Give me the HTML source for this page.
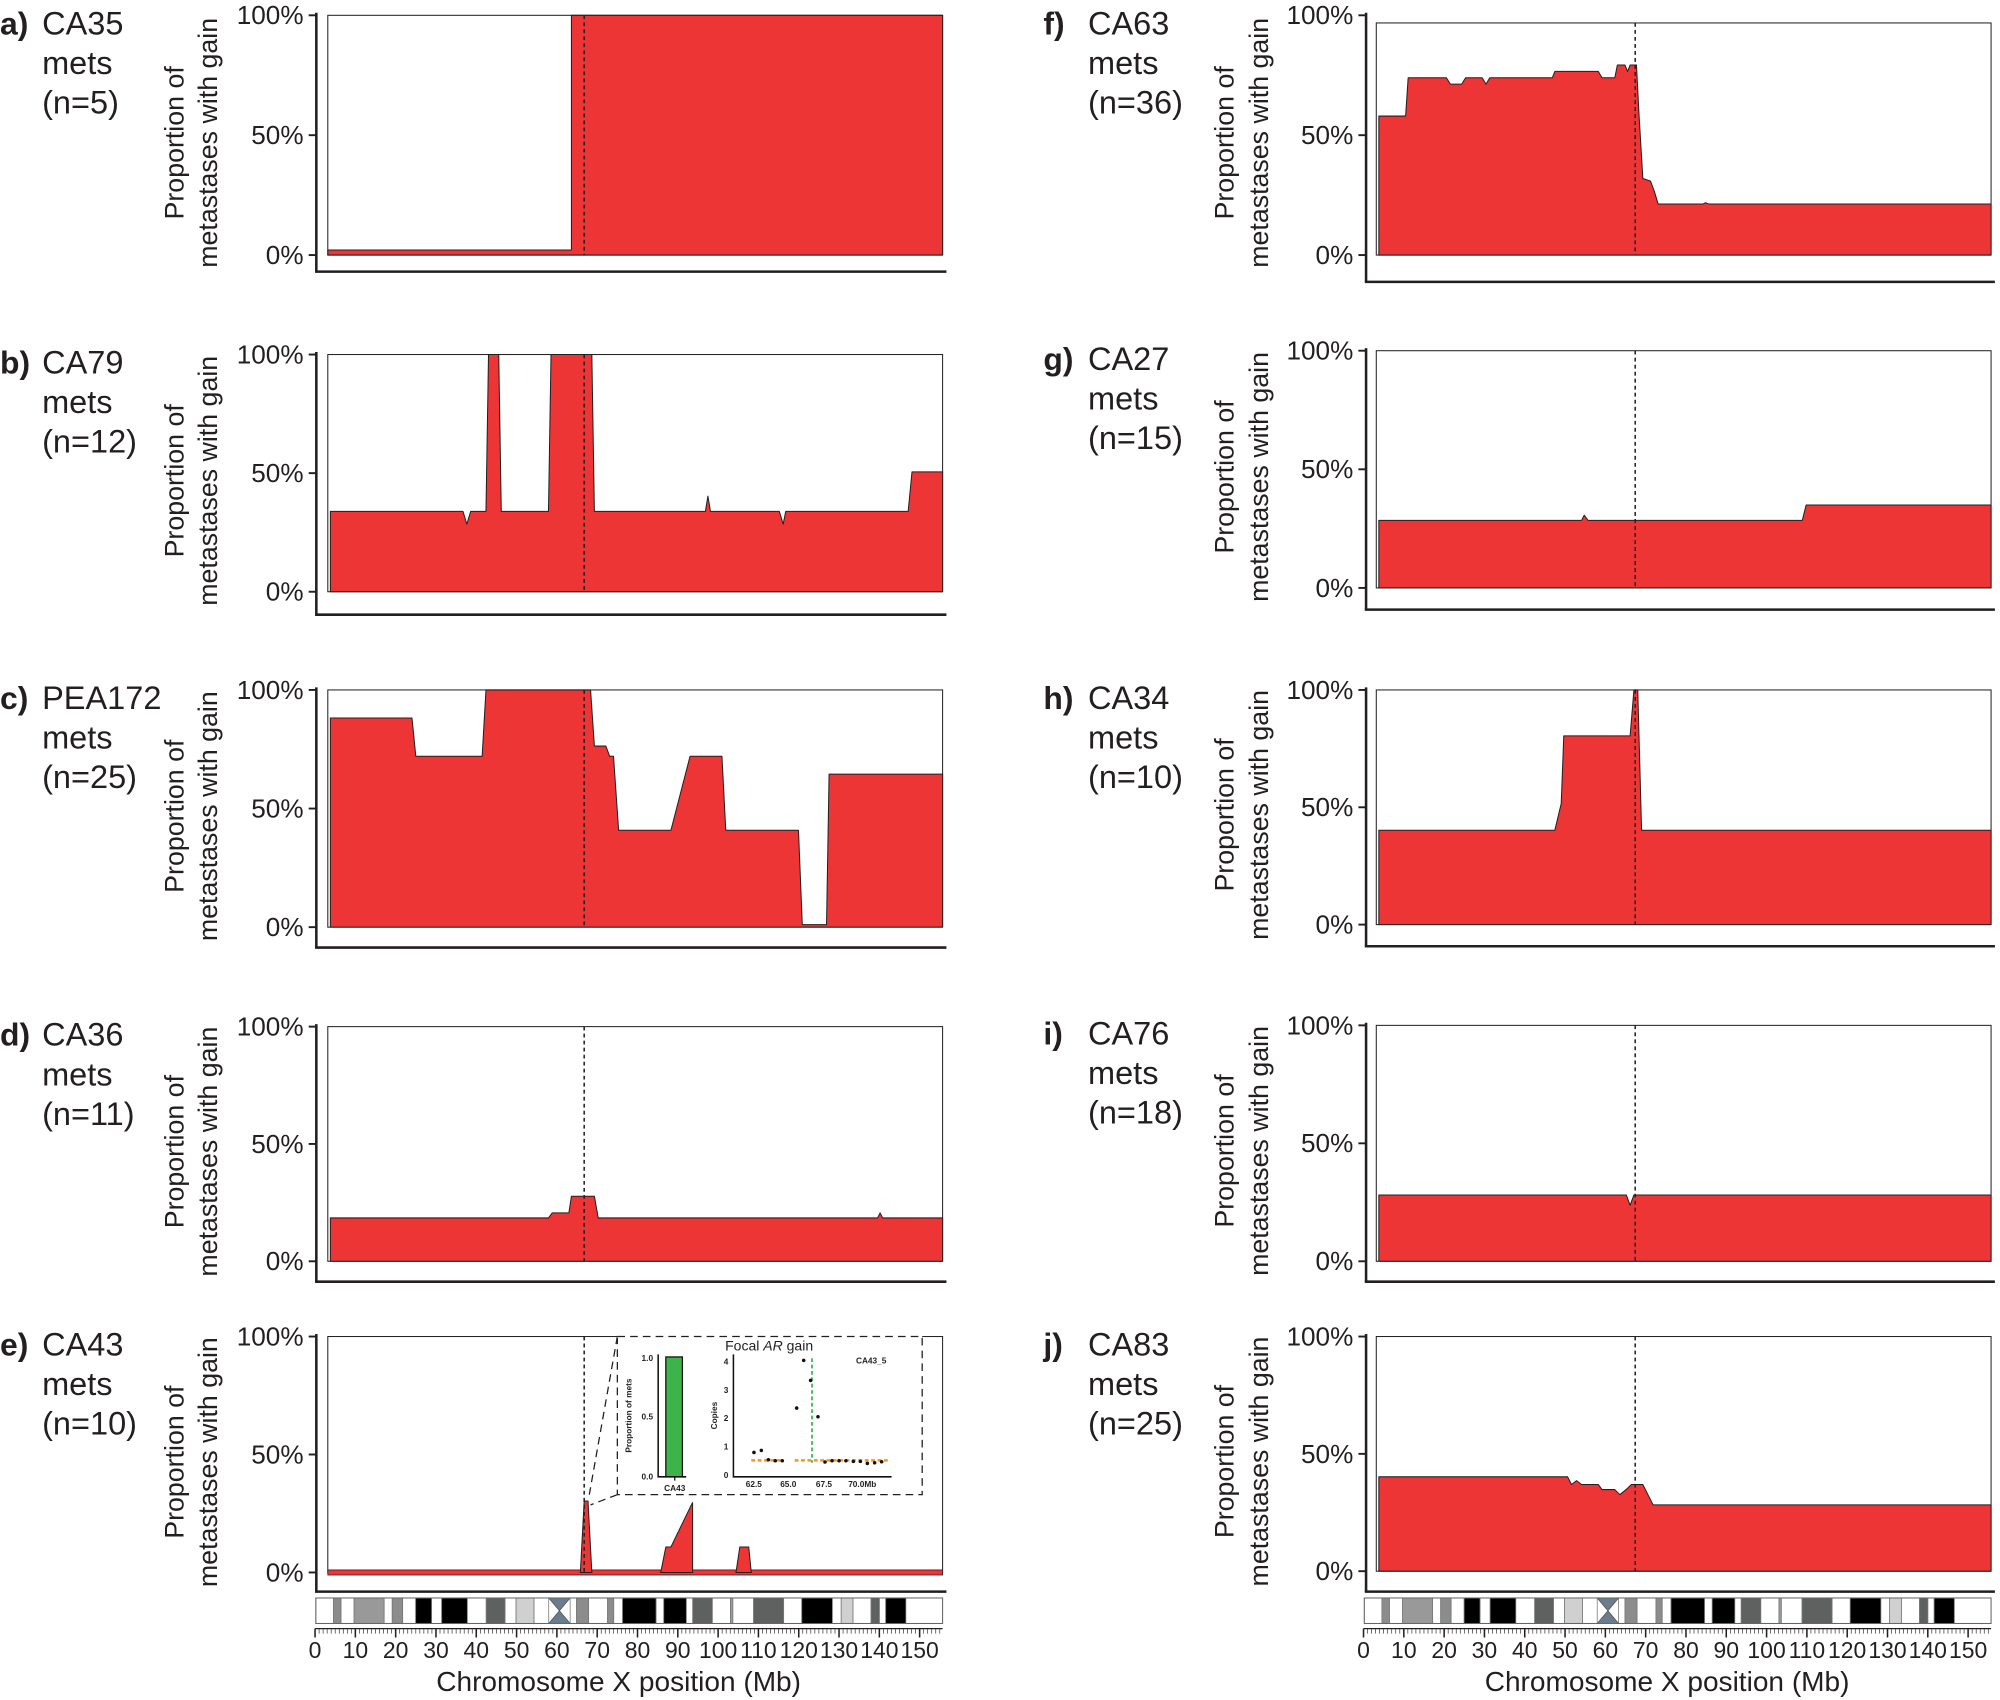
<!DOCTYPE html>
<html><head><meta charset="utf-8">
<style>html,body{margin:0;padding:0;background:#fff;}svg{display:block;}
text{font-family:"Liberation Sans",Arial,sans-serif;fill:#231f20;}</style></head>
<body>
<svg id="s" width="2000" height="1700" viewBox="0 0 1568 1333" preserveAspectRatio="none" xmlns="http://www.w3.org/2000/svg"></svg>
<script>
const R='#ee3536';
let o='';
const panels=[
 {L:'a)',n:'CA35',c:'(n=5)',top:12,base:200,bl:213,side:0,
  poly:[[257,200],[257,196],[448,196],[448,12],[739,12],[739,200]]},
 {L:'b)',n:'CA79',c:'(n=12)',top:278,base:464,bl:482,side:0,
  poly:[[259,464],[259,401],[363,401],[366,411],[369,401],[381,401],[383,278],[391,278],[393,401],[430,401],[432,278],[464,278],[466,401],[553,401],[555,389],[557,401],[611,401],[614,411],[616,401],[712,401],[715,370],[739,370],[739,464]]},
 {L:'c)',n:'PEA172',c:'(n=25)',top:541,base:727,bl:743,side:0,
  poly:[[259,727],[259,563],[323,563],[326,593],[378,593],[381,541],[463,541],[466,585],[475,585],[478,593],[481,593],[485,651],[526,651],[541,593],[566,593],[569,651],[626,651],[629,725],[648,725],[650,607],[739,607],[739,727]]},
 {L:'d)',n:'CA36',c:'(n=11)',top:805,base:989,bl:1005,side:0,
  poly:[[259,989],[259,955],[430,955],[433,951],[446,951],[448,938],[466,938],[469,955],[688,955],[690,951],[692,955],[739,955],[739,989]]},
 {L:'e)',n:'CA43',c:'(n=10)',top:1048,base:1233,bl:1248,side:0,poly:null},
 {L:'f)',n:'CA63',c:'(n=36)',top:12,base:200,bl:221,side:1,btop:18,
  poly:[[1081,200],[1081,91],[1102,91],[1104,61],[1134,61],[1137,66],[1146,66],[1149,61],[1162,61],[1165,66],[1168,61],[1217,61],[1219,56],[1253,56],[1256,61],[1266,61],[1268,51],[1274,51],[1276,56],[1278,51],[1283,51],[1285,90],[1288,140],[1294,142],[1297,150],[1300,160],[1335,160],[1337,159],[1340,160],[1561,160],[1561,200]]},
 {L:'g)',n:'CA27',c:'(n=15)',top:275,base:461,bl:478,side:1,
  poly:[[1081,461],[1081,408],[1240,408],[1242,404],[1245,408],[1413,408],[1416,396],[1561,396],[1561,461]]},
 {L:'h)',n:'CA34',c:'(n=10)',top:541,base:725,bl:742,side:1,
  poly:[[1081,725],[1081,651],[1219,651],[1224,630],[1226,577],[1278,577],[1281,541],[1284,541],[1287,651],[1561,651],[1561,725]]},
 {L:'i)',n:'CA76',c:'(n=18)',top:804,base:989,bl:1005,side:1,
  poly:[[1081,989],[1081,937],[1275,937],[1278,945],[1281,937],[1561,937],[1561,989]]},
 {L:'j)',n:'CA83',c:'(n=25)',top:1048,base:1232,bl:1248,side:1,
  poly:[[1081,1232],[1081,1158],[1229,1158],[1232,1164],[1236,1161],[1240,1164],[1253,1164],[1256,1168],[1266,1168],[1270,1172],[1276,1167],[1279,1164],[1288,1164],[1292,1172],[1296,1180],[1561,1180],[1561,1232]]},
];
const pts=a=>a.map(p=>p.join(',')).join(' ');
for(const p of panels){
  const dx=p.side?822:0;
  const bx0=257+dx, bx1=739+dx, ax=248+dx+(p.side?1:0);
  const bt=p.btop||p.top;
  o+=`<rect x="${bx0}" y="${bt}" width="${bx1-bx0}" height="${p.base-bt}" fill="#fff" stroke="#231f20" stroke-width="0.8"/>`;
  if(p.poly) o+=`<polygon points="${pts(p.poly)}" fill="${R}" stroke="#231f20" stroke-width="0.8" stroke-linejoin="round"/>`;
  if(p.L==='e)'){
    o+=`<rect x="257" y="1231" width="482" height="4" fill="${R}" stroke="#231f20" stroke-width="0.6"/>`;
    o+=`<polygon points="455,1233 458,1177 461,1177 464,1233" fill="${R}" stroke="#231f20" stroke-width="0.8"/>`;
    o+=`<polygon points="518,1233 522,1213 526,1213 543,1178 543,1233" fill="${R}" stroke="#231f20" stroke-width="0.8"/>`;
    o+=`<polygon points="577,1233 580,1213 587,1213 589,1233" fill="${R}" stroke="#231f20" stroke-width="0.8"/>`;
  }
  const dxl=p.side?1282:458;
  o+=`<line x1="${dxl}" y1="${bt}" x2="${dxl}" y2="${p.base}" stroke="#231f20" stroke-width="1.2" stroke-dasharray="3,2.5"/>`;
  o+=`<line x1="${ax}" y1="${p.top-2}" x2="${ax}" y2="${p.bl}" stroke="#231f20" stroke-width="2"/>`;
  o+=`<line x1="${ax-1}" y1="${p.bl}" x2="${bx1+3}" y2="${p.bl}" stroke="#231f20" stroke-width="2"/>`;
  const ys=[p.top,(p.top+p.base)/2,p.base];
  ['100%','50%','0%'].forEach((t,i)=>{
    o+=`<line x1="${ax-6}" y1="${ys[i]}" x2="${ax}" y2="${ys[i]}" stroke="#231f20" stroke-width="1.5"/>`;
    o+=`<text x="${ax-10}" y="${ys[i]+7}" font-size="20.5" text-anchor="end">${t}</text>`;
  });
  const cy=(p.top+p.base)/2+6;
  const tx1=137+dx+(p.side?1:0), tx2=163+dx+(p.side?2:0);
  o+=`<text transform="translate(${tx1+7},${cy}) rotate(-90)" font-size="21" text-anchor="middle">Proportion of</text>`;
  o+=`<text transform="translate(${tx2+7},${cy}) rotate(-90)" font-size="21" text-anchor="middle">metastases with gain</text>`;
  const lx=p.side?818:0, nx=p.side?853:33, ly=p.top+2;
  o+=`<text x="${lx}" y="${ly+13}" font-size="25" font-weight="bold">${p.L}</text>`;
  o+=`<text x="${nx}" y="${ly+13}" font-size="25.5">${p.n}</text>`;
  o+=`<text x="${nx}" y="${ly+44}" font-size="25.5">mets</text>`;
  o+=`<text x="${nx}" y="${ly+75}" font-size="25.5">${p.c}</text>`;
}
const bands=[[247.6,261.4,'#fff'],[261.4,267.4,'#8c8c8c'],[267.4,277.6,'#fff'],[277.6,301.2,'#999'],[301.2,307.5,'#fff'],[307.5,315.7,'#8c8c8c'],[315.7,325.9,'#fff'],[325.9,338.4,'#000'],[338.4,346.3,'#fff'],[346.3,366.4,'#000'],[366.4,381.2,'#fff'],[381.2,396,'#5f6161'],[396,404.6,'#fff'],[404.6,418.7,'#d0d0d0'],[418.7,430.2,'#fff'],[447,452,'#fff'],[452,461.5,'#8c8c8c'],[461.5,476.3,'#fff'],[476.3,481.2,'#8c8c8c'],[481.2,488.1,'#fff'],[488.1,514.4,'#000'],[514.4,520.4,'#fff'],[520.4,538.1,'#000'],[538.1,543.1,'#fff'],[543.1,558.5,'#5f6161'],[558.5,572.7,'#fff'],[572.7,574.6,'#999'],[574.6,590.8,'#fff'],[590.8,614.4,'#5f6161'],[614.4,628.6,'#fff'],[628.6,652.6,'#000'],[652.6,659.5,'#fff'],[659.5,668.8,'#d0d0d0'],[668.8,682.9,'#fff'],[682.9,689.5,'#5f6161'],[689.5,694.4,'#fff'],[694.4,710.2,'#000'],[710.2,739,'#fff']];
for(const dx of [0,822]){
  let g=`<g transform="translate(${dx},0)">`;
  const y0=1253,h=20;
  for(const b of bands) g+=`<rect x="${b[0]}" y="${y0}" width="${b[1]-b[0]}" height="${h}" fill="${b[2]}" stroke="#777" stroke-width="0.6"/>`;
  g+=`<polygon points="430.2,${y0} 447,${y0} 430.2,${y0+h} 447,${y0+h}" fill="#6a7d8e" stroke="#555" stroke-width="0.6"/>`;
  g+=`<rect x="247.6" y="${y0}" width="491.4" height="${h}" fill="none" stroke="#666" stroke-width="0.8"/>`;
  const sc=3.16;
  g+=`<line x1="247" y1="1277" x2="739" y2="1277" stroke="#231f20" stroke-width="1"/>`;
  for(let m=0;m<=155;m++){const x=247+m*sc;g+=`<line x1="${x}" y1="1277" x2="${x}" y2="${m%10==0?1284:1281}" stroke="#231f20" stroke-width="${m%10==0?1.2:0.5}"/>`;}
  for(let m=0;m<=150;m+=10){g+=`<text x="${247+m*sc}" y="1300" font-size="18" text-anchor="middle">${m}</text>`;}
  g+=`<text x="485" y="1326" font-size="22" text-anchor="middle">Chromosome X position (Mb)</text>`;
  g+='</g>';o+=g;
}
o+=`<g stroke="#231f20" stroke-width="1" stroke-dasharray="6,4" fill="none"><rect x="484" y="1048" width="239" height="124"/><line x1="484" y1="1048" x2="462" y2="1172"/><line x1="484" y1="1172" x2="463" y2="1180"/></g>`;
o+=`<rect x="484" y="1046" width="239" height="3" fill="#fff"/>`;
o+=`<line x1="484" y1="1048" x2="723" y2="1048" stroke="#231f20" stroke-width="1" stroke-dasharray="6,4"/>`;
o+=`<rect x="522" y="1064" width="13" height="94" fill="#3cb44a" stroke="#111" stroke-width="1"/>`;
o+=`<polyline points="516,1062 516,1158 538,1158" fill="none" stroke="#111" stroke-width="1.2"/>`;
o+=`<line x1="529" y1="1158" x2="529" y2="1161" stroke="#111"/>`;
[['1.0',1065],['0.5',1111],['0.0',1158]].forEach(t=>o+=`<text x="512" y="${t[1]+2}" font-size="6.5" font-weight="bold" text-anchor="end">${t[0]}</text>`);
o+=`<text x="529" y="1169" font-size="6.5" font-weight="bold" text-anchor="middle">CA43</text>`;
o+=`<text transform="translate(495,1110) rotate(-90)" font-size="6.5" font-weight="bold" text-anchor="middle">Proportion of mets</text>`;
o+=`<text x="603" y="1059" font-size="11" text-anchor="middle">Focal <tspan font-style="italic">AR</tspan> gain</text>`;
o+=`<text x="683" y="1069" font-size="6.5" font-weight="bold" text-anchor="middle">CA43_5</text>`;
o+=`<polyline points="575,1062 575,1158 699,1158" fill="none" stroke="#111" stroke-width="1.2"/>`;
for(let c=0;c<=4;c++){const y=1157-c*22.3;o+=`<text x="571" y="${y+2}" font-size="6.5" font-weight="bold" text-anchor="end">${c}</text>`;}
o+=`<text transform="translate(562,1110) rotate(-90)" font-size="6.5" font-weight="bold" text-anchor="middle">Copies</text>`;
[['62.5',591],['65.0',618],['67.5',646],['70.0Mb',676]].forEach(t=>o+=`<text x="${t[1]}" y="1166" font-size="6.5" font-weight="bold" text-anchor="middle">${t[0]}</text>`);
o+=`<line x1="589" y1="1145.1" x2="613" y2="1145.1" stroke="#f7941d" stroke-width="2" stroke-dasharray="3,2"/>`;
o+=`<line x1="623" y1="1145.1" x2="698" y2="1145.1" stroke="#f7941d" stroke-width="2" stroke-dasharray="3,2"/>`;
o+=`<line x1="636.6" y1="1065" x2="636.6" y2="1147" stroke="#2bb24c" stroke-width="1.3" stroke-dasharray="3,2"/>`;
const sp=[[591.1,1138.9],[596.9,1137.3],[602.4,1144.6],[607.8,1145.4],[613.3,1145.4],[624.6,1104.1],[630.1,1066.7],[635.5,1082.4],[641.3,1110.9],[646.8,1146.4],[652.3,1145.4],[657.8,1145.4],[663.2,1145.4],[669,1145.9],[674.5,1145.9],[680,1147.5],[685.7,1147],[691.2,1146.2]];
for(const q of sp) o+=`<circle cx="${q[0]}" cy="${q[1]}" r="1.4" fill="#111"/>`;
document.getElementById('s').innerHTML=o;
</script>
</body></html>
